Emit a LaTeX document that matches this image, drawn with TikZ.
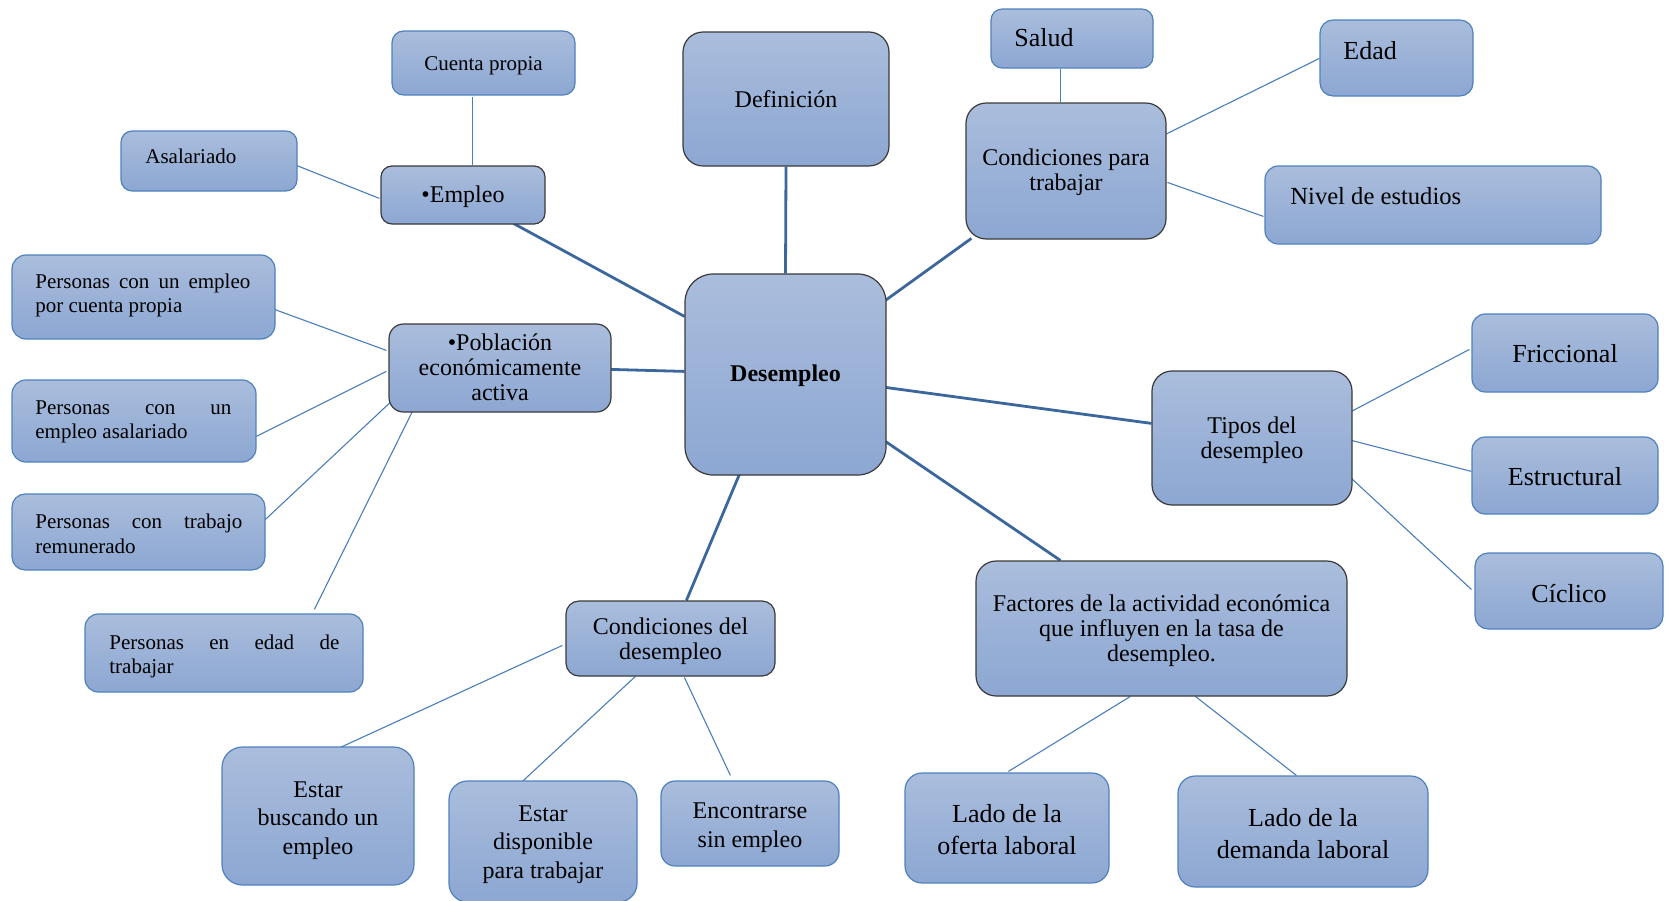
\documentclass[tikz,border=0pt]{standalone}
\usepackage{fontspec}
\setmainfont{Liberation Serif}
\usetikzlibrary{calc,backgrounds}
\definecolor{boxtop}{HTML}{AABDDC}
\definecolor{boxbot}{HTML}{8CA7D2}
\definecolor{leafline}{HTML}{4F81BD}
\definecolor{mainline}{HTML}{3A3A3A}
\definecolor{thickc}{HTML}{3B679C}
\definecolor{thinc}{HTML}{4A7EBB}
\hyphenpenalty=10000
\exhyphenpenalty=10000
\tikzset{
 basebox/.style={rectangle, top color=boxtop, bottom color=boxbot, inner sep=0pt, line width=0.6pt},
 leaf/.style={basebox, draw=leafline},
 hub/.style={basebox, draw=mainline},
 ctext/.style={inner sep=0pt, align=center, text=black},
 fs/.style={font=\fontsize{10.5}{12.25}\selectfont},
 fm/.style={font=\fontsize{12}{12.5}\selectfont},
 fml/.style={font=\fontsize{12}{14.2}\selectfont},
 fb/.style={font=\fontsize{13}{16}\selectfont},
 fn/.style={font=\fontsize{12.3}{14}\selectfont},
 fbold/.style={font=\fontsize{12}{14}\selectfont\bfseries},
 thickln/.style={draw=thickc, line width=1.4pt},
 thinln/.style={draw=thinc, line width=0.55pt},
 lbl/.style={inner sep=0pt, anchor=west, text=black},
 just/.style={lbl, align=justify, text width=#1},
}
% #1 name, #2 box kind, #3 font style, #4 text shift down (px), #5-#8 x1 y1 x2 y2, #9 text
\newcommand\bx[9]{%
 \pgfmathsetmacro\bxw{(#7-#5)*0.5}%
 \pgfmathsetmacro\bxh{(#8-#6)*0.5}%
 \pgfmathsetmacro\bxr{(0.12*min(#7-#5,#8-#6)+4)*0.5}%
 \pgfmathsetmacro\bxx{(#5+#7)/2}%
 \pgfmathsetmacro\bxy{(#6+#8)/2}%
 \pgfmathsetmacro\bxty{(#6+#8)/2+#4}%
 \node[#2, minimum width=\bxw pt, minimum height=\bxh pt, rounded corners=\bxr pt] (#1) at (\bxx,\bxy) {};
 \node[ctext,#3] (#1-t) at (\bxx,\bxty) {#9};}
\newcommand\nw[3]{($(#1.north west)+(#2,#3)$)}
\begin{document}
\begin{tikzpicture}[x=0.5pt,y=-0.5pt]
\useasboundingbox (0,0) rectangle (1670,900);
% boxes
\bx{cuenta}{leaf}{fs}{3}{392}{31}{575}{95}{Cuenta propia}
\bx{def}{hub}{fm}{0}{683}{32}{889}{166}{Definición}
\bx{salud}{leaf}{fb}{0}{991}{9}{1153}{68}{}
\bx{edad}{leaf}{fb}{0}{1320}{20}{1473}{96}{}
\bx{asal}{leaf}{fs}{0}{121}{131}{297}{191}{}
\bx{empleo}{hub}{fm}{2}{381}{166}{545}{224}{•Empleo}
\bx{cpt}{hub}{fm}{1}{966}{103}{1166}{239}{Condiciones para\\trabajar}
\bx{nivel}{leaf}{fn}{0}{1265}{166}{1601}{244}{}
\bx{pa}{leaf}{fs}{0}{12}{255}{275}{339}{}
\bx{pob}{hub}{fm}{-1}{389}{324}{611}{412}{•Población\\económicamente\\activa}
\bx{desemp}{hub}{fbold}{1}{685}{274}{886}{475}{Desempleo}
\bx{fric}{leaf}{fb}{1}{1472}{314}{1658}{392}{Friccional}
\bx{pb}{leaf}{fs}{0}{12}{380}{256}{462}{}
\bx{tipos}{hub}{fm}{2.5}{1152}{371}{1352}{505}{Tipos del\\desempleo}
\bx{estr}{leaf}{fb}{1}{1472}{437}{1658}{514}{Estructural}
\bx{pc}{leaf}{fs}{0}{12}{494}{265}{570}{}
\bx{cicl}{leaf}{fb}{3}{1475}{553}{1663}{629}{Cíclico}
\bx{fact}{hub}{fm}{2}{976}{561}{1347}{696}{Factores de la actividad económica\\que influyen en la tasa de\\desempleo.}
\bx{pd}{leaf}{fs}{0}{85}{614}{363}{692}{}
\bx{cd}{hub}{fm}{3}{566}{601}{775}{676}{Condiciones del\\desempleo}
\bx{busc}{leaf}{fml}{4.5}{222}{747}{414}{885}{Estar\\buscando un\\empleo}
\bx{disp}{leaf}{fml}{3}{449}{781}{637}{902}{Estar\\disponible\\para trabajar}
\bx{enc}{leaf}{fml}{4}{661}{781}{839}{866}{Encontrarse\\sin empleo}
\bx{oferta}{leaf}{fb}{2}{905}{773}{1109}{883}{Lado de la\\oferta laboral}
\bx{demanda}{leaf}{fb}{2}{1178}{776}{1428}{887}{Lado de la\\demanda laboral}
% off-centre texts
\node[lbl,fb] (saludt) at (1014,38) {Salud};
\node[lbl,fb] (edadt) at (1343,51) {Edad};
\node[lbl,fs] (asalt) at (145,156) {Asalariado};
\node[lbl,fn] (nivelt) at (1290,196) {Nivel de estudios};
\node[just=107.5pt,fs] (pat) at (35,295.5) {Personas con un empleo por cuenta propia};
\node[just=98pt,fs] (pbt) at (35,422) {Personas con un empleo asalariado};
\node[just=103.5pt,fs] (pct) at (35,534) {Personas con trabajo remunerado};
\node[just=115pt,fs] (pdt) at (109,656.5) {Personas en edad de trabajar};
% connectors
\begin{pgfonlayer}{background}
\draw[thickln] (desemp.north) -- (def.south);
\draw[thickln] \nw{desemp}{0}{43} -- \nw{empleo}{133}{58};
\draw[thickln] \nw{desemp}{0}{98} -- \nw{pob}{222}{46};
\draw[thickln] \nw{desemp}{201}{27} -- \nw{cpt}{6}{136};
\draw[thickln] \nw{desemp}{201}{114} -- \nw{tipos}{0}{53};
\draw[thickln] \nw{desemp}{201}{168} -- \nw{fact}{85}{0};
\draw[thickln] \nw{desemp}{55}{201} -- \nw{cd}{121}{0};
\draw[thinln] \nw{empleo}{92}{0} -- \nw{cuenta}{81}{67};
\draw[thinln] \nw{empleo}{-1}{33} -- \nw{asal}{176}{35};
\draw[thinln] \nw{pob}{-2}{27} -- \nw{pa}{263}{55};
\draw[thinln] \nw{pob}{-2}{48} -- \nw{pb}{245}{57};
\draw[thinln] \nw{pob}{4}{77} -- \nw{pc}{253}{27};
\draw[thinln] \nw{pob}{24}{88} -- \nw{pd}{230}{-4};
\draw[thinln] \nw{cpt}{95}{0} -- \nw{salud}{70}{61};
\draw[thinln] \nw{cpt}{200}{32} -- \nw{edad}{0}{39};
\draw[thinln] \nw{cpt}{202}{80} -- \nw{nivel}{-1}{51};
\draw[thinln] \nw{tipos}{200}{41} -- \nw{fric}{-2}{36};
\draw[thinln] \nw{tipos}{200}{70} -- \nw{estr}{0}{35};
\draw[thinln] \nw{tipos}{200}{108} -- \nw{cicl}{-3}{37};
\draw[thinln] \nw{fact}{155}{136} -- \nw{oferta}{104}{-1};
\draw[thinln] \nw{fact}{220}{136} -- \nw{demanda}{119}{0};
\draw[thinln] \nw{cd}{-3}{45} -- \nw{busc}{119}{1};
\draw[thinln] \nw{cd}{70}{76} -- \nw{disp}{74}{1};
\draw[thinln] \nw{cd}{119}{77} -- \nw{enc}{70}{-5};
\end{pgfonlayer}
\end{tikzpicture}
\end{document}
